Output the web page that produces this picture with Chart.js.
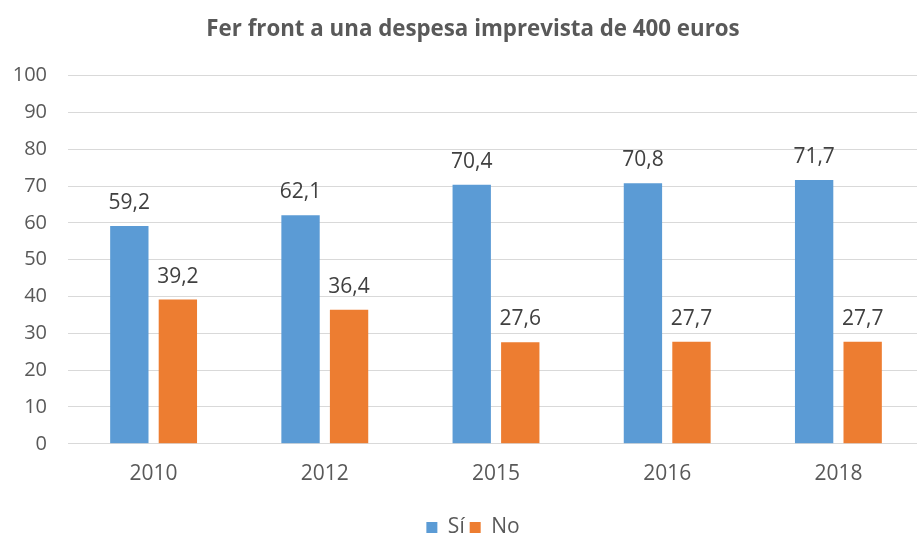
<!DOCTYPE html>
<html>
<head>
<meta charset="utf-8">
<script src="https://cdn.jsdelivr.net/npm/chart.js@4"></script>
<style>
html,body{margin:0;padding:0;background:#fff;overflow:hidden;}
#wrap{width:946px;height:536px;position:relative;}
</style>
</head>
<body>
<div id="wrap"><canvas id="c"></canvas></div>
<script>
const categories = ["2010", "2012", "2015", "2016", "2018"];
const siValues = [59.2, 62.1, 70.4, 70.8, 71.7];
const noValues = [39.2, 36.4, 27.6, 27.7, 27.7];
const seriesNames = ["Sí", "No"];
const titleText = "Fer front a una despesa imprevista de 400 euros";

const FONT = "'Open Sans', 'Noto Sans', sans-serif";

const valueLabels = {
  id: 'valueLabels',
  afterLayout(chart) {
    // let the y tick labels extend into the left padding without being clipped
    const y = chart.scales.y;
    y.left = 0;
    y.width = y.right;
  },
  afterDatasetsDraw(chart) {
    const ctx = chart.ctx;
    ctx.save();
    ctx.font = "21px " + FONT;
    ctx.fillStyle = "#404040";
    ctx.textAlign = "center";
    ctx.textBaseline = "alphabetic";
    chart.data.datasets.forEach((ds, i) => {
      const meta = chart.getDatasetMeta(i);
      meta.data.forEach((bar, j) => {
        const txt = ds.data[j].toFixed(1).replace('.', ',');
        ctx.fillText(txt, bar.x, bar.y - 17);
      });
    });
    ctx.restore();
  }
};

new Chart(document.getElementById('c'), {
  type: 'bar',
  data: {
    labels: categories,
    datasets: [
      { label: seriesNames[0], data: siValues, backgroundColor: '#5b9bd5' },
      { label: seriesNames[1], data: noValues, backgroundColor: '#ed7d31' }
    ]
  },
  options: {
    responsive: true,
    maintainAspectRatio: false,
    animation: false,
    categoryPercentage: 0.567,
    barPercentage: 0.79,
    layout: { padding: { left: 22, right: 22, top: 6, bottom: -12 } },
    plugins: {
      title: {
        display: true,
        text: titleText,
        color: '#595959',
        font: { family: FONT, size: 22.3, weight: 'bold' },
        padding: { top: 10, bottom: 33 }
      },
      legend: {
        position: 'bottom',
        labels: {
          color: '#595959',
          font: { family: FONT, size: 21 },
          boxWidth: 11,
          boxHeight: 11,
          padding: 5
        }
      },
      tooltip: { enabled: false }
    },
    scales: {
      x: {
        grid: { display: false },
        border: { display: true, color: '#d9d9d9' },
        afterFit(scale) { scale.height = scale.height + 15; },
        ticks: { color: '#595959', font: { family: FONT, size: 21 }, padding: 10 }
      },
      y: {
        min: 0, max: 100,
        afterFit(scale) { scale.width = 46; },
        ticks: { stepSize: 10, color: '#595959', font: { family: FONT, size: 20 }, padding: 21 },
        grid: { color: '#d9d9d9', drawTicks: false },
        border: { display: false }
      }
    }
  },
  plugins: [valueLabels]
});
</script>
</body>
</html>
